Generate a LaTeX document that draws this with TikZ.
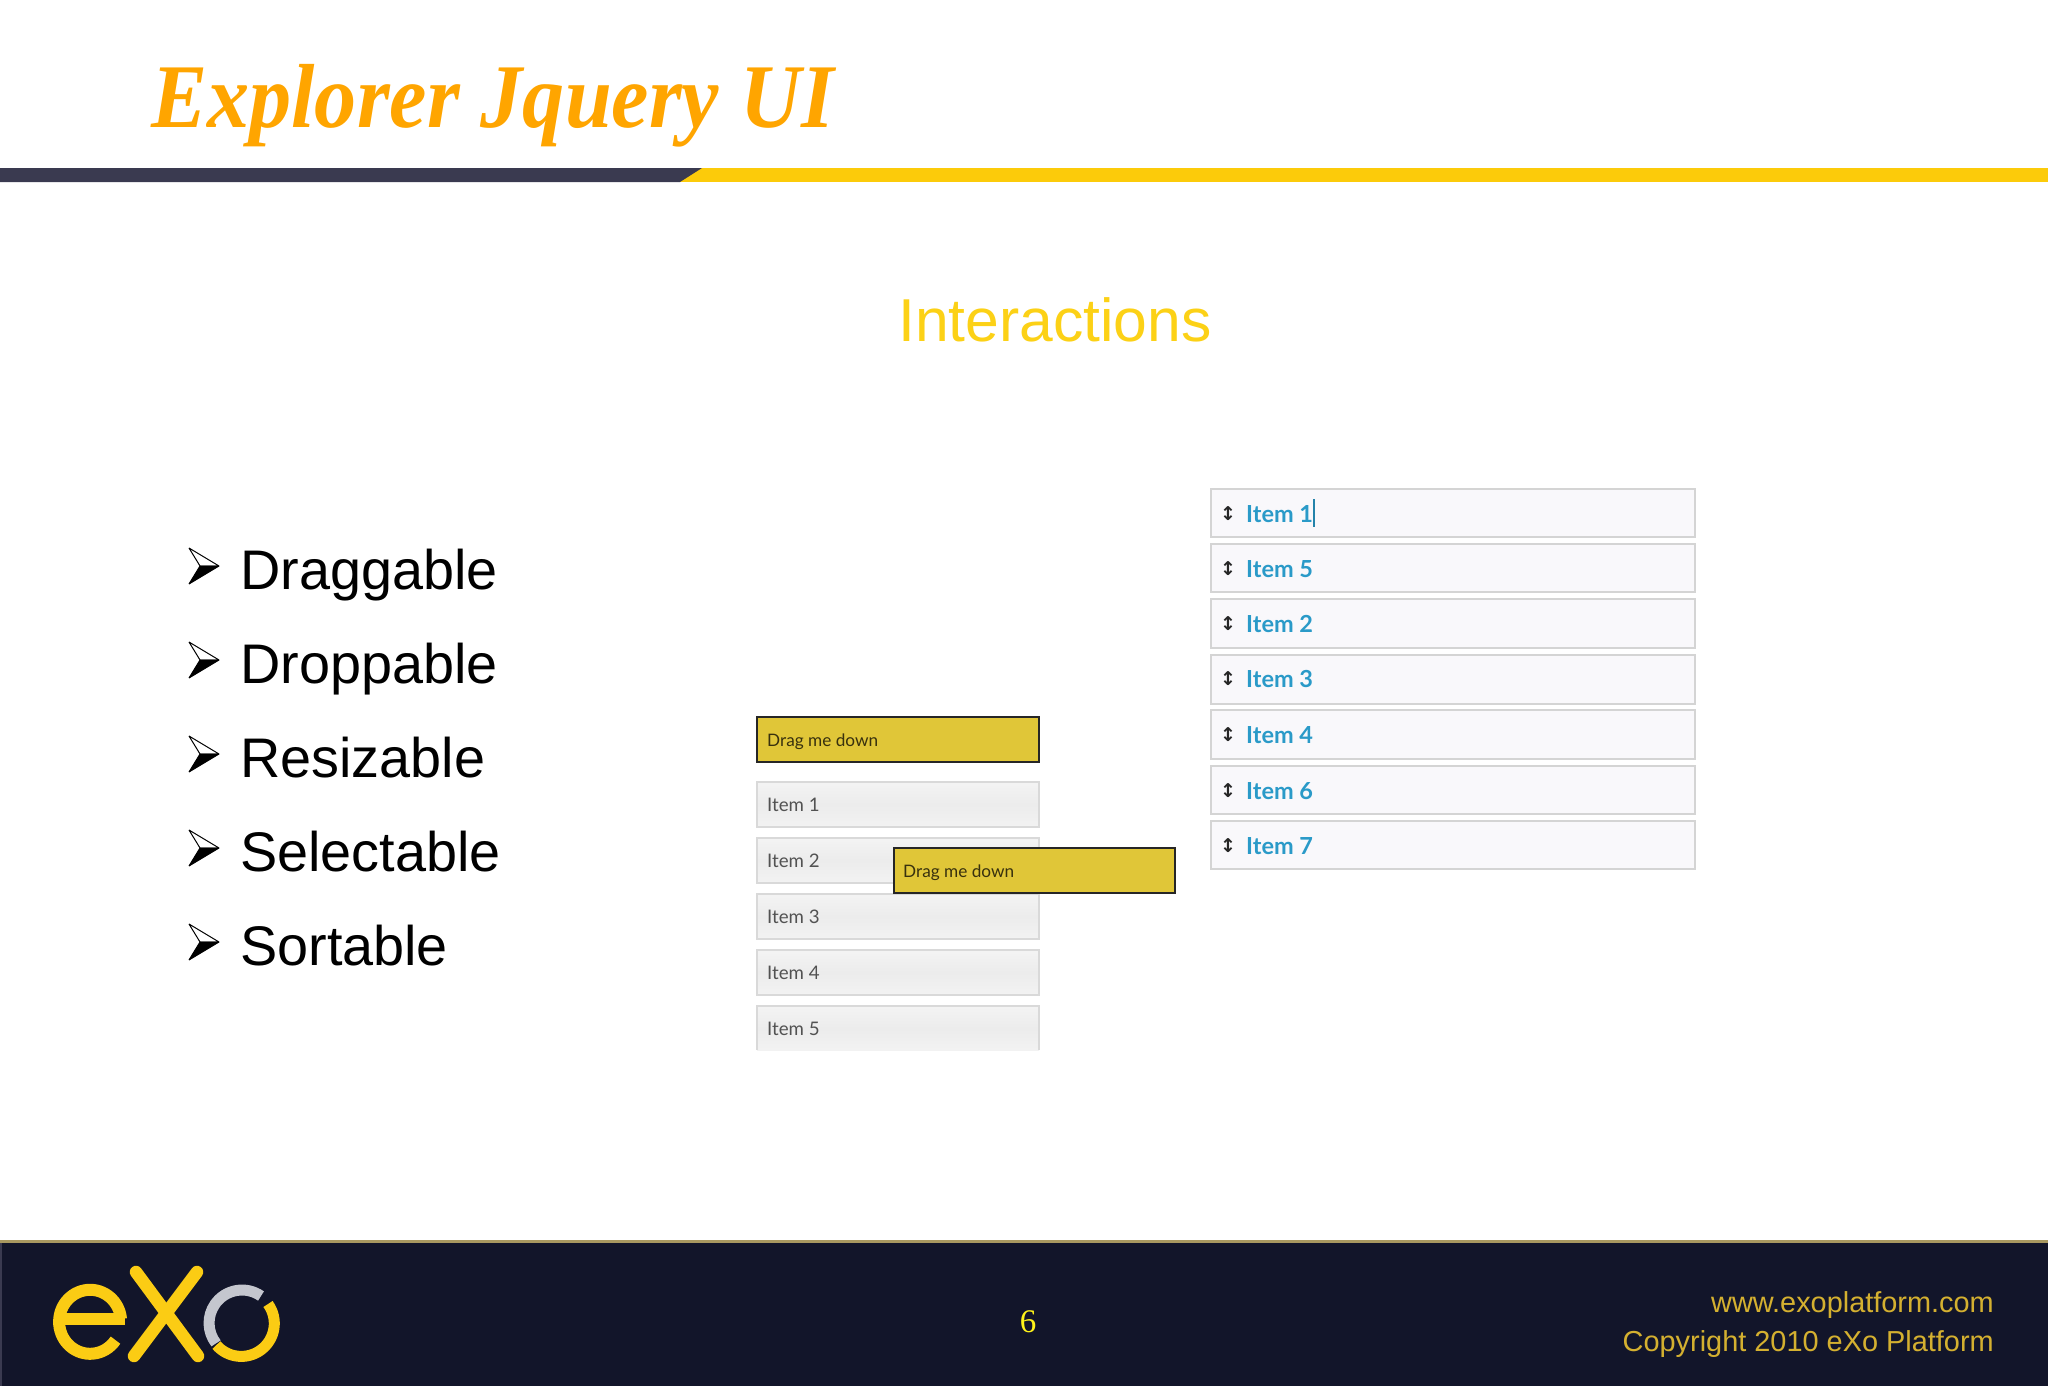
\documentclass[tikz,border=0pt]{standalone}
\usepackage{fontspec}
\setmainfont{Liberation Sans}
\newfontfamily\titlefont{Liberation Serif}
\newfontfamily\titlecond[FakeStretch=0.925]{Liberation Serif}
\newfontfamily\uifont{Lato}
\newfontfamily\symfont{DejaVu Sans}
\definecolor{titleorange}{HTML}{FFA500}
\definecolor{barnavy}{HTML}{3A3A50}
\definecolor{baryellow}{HTML}{FCCB0A}
\definecolor{subyellow}{HTML}{FCD116}
\definecolor{footnavy}{HTML}{12152A}
\definecolor{footline}{HTML}{A89860}
\definecolor{footgold}{HTML}{D4B030}
\definecolor{logoyellow}{HTML}{FBCC14}
\definecolor{logogrey}{HTML}{C4C6CE}
\definecolor{dragyellow}{HTML}{E0C638}
\definecolor{itemblue}{HTML}{2A9AC8}
\definecolor{sortfill}{HTML}{F9F8FB}
\tikzset{
  fs/.style={font=\fontsize{#1}{#1}\selectfont},
  bullet/.style={fs=55.8,anchor=base west},
  arrowtip/.style={line width=1,line join=bevel},
  dragbox/.style={draw=black!85,line width=1.6,fill=dragyellow},
  dragtext/.style={anchor=base west,inner sep=0,text=black!75!dragyellow,font=\fontsize{17.2}{17.2}\selectfont\uifont},
  itembox/.style={draw=black!15,line width=1.4,top color=gray!9,bottom color=gray!10,middle color=gray!15},
  itemtext/.style={anchor=base west,inner sep=0,text=black!68,font=\fontsize{18.7}{18.7}\selectfont\uifont},
  sortbox/.style={draw=black!17,line width=1.4,fill=sortfill},
  sorttext/.style={anchor=base west,inner sep=0,text=itemblue,font=\fontsize{23.5}{23.5}\selectfont\uifont\bfseries},
  sorticon/.style={inner sep=0,text=black!85,font=\fontsize{19}{19}\selectfont\symfont\bfseries},
  logostroke/.style={line width=12,draw=logoyellow},
  foot/.style={anchor=base east,inner sep=0,text=footgold,fs=28.9}
}
\begin{document}
\begin{tikzpicture}[x=1pt,y=-1pt]
\useasboundingbox (0,0) rectangle (2048,1386);
\fill[white] (0,0) rectangle (2048,1386);
% header
\node[anchor=base west,inner sep=0,text=titleorange,font=\fontsize{91}{91}\selectfont\titlecond\bfseries\itshape] (title) at (151,128) {Explorer Jquery UI};
\fill[baryellow] (680,168) rectangle (2048,182);
\fill[barnavy] (0,168) -- (702,168) -- (680,182) -- (0,182) -- cycle;
\node[anchor=base,inner sep=0,text=subyellow,fs=60.6] (subtitle) at (1055,341) {Interactions};
% bullets
\draw[arrowtip,fill=white] (189,548) -- (219,566) -- (200,566) -- cycle;
\draw[arrowtip,fill=black] (189,584) -- (219,566) -- (200,566) -- cycle;
\node[bullet,inner sep=0] (drag) at (240,589) {Draggable};
\draw[arrowtip,fill=white] (189,642) -- (219,660) -- (200,660) -- cycle;
\draw[arrowtip,fill=black] (189,678) -- (219,660) -- (200,660) -- cycle;
\node[bullet,inner sep=0] (drop) at (240,683) {Droppable};
\draw[arrowtip,fill=white] (189,736) -- (219,754) -- (200,754) -- cycle;
\draw[arrowtip,fill=black] (189,772) -- (219,754) -- (200,754) -- cycle;
\node[bullet,inner sep=0] (resize) at (240,777) {Resizable};
\draw[arrowtip,fill=white] (189,830) -- (219,848) -- (200,848) -- cycle;
\draw[arrowtip,fill=black] (189,866) -- (219,848) -- (200,848) -- cycle;
\node[bullet,inner sep=0] (select) at (240,871) {Selectable};
\draw[arrowtip,fill=white] (189,924) -- (219,942) -- (200,942) -- cycle;
\draw[arrowtip,fill=black] (189,960) -- (219,942) -- (200,942) -- cycle;
\node[bullet,inner sep=0] (sort) at (240,965) {Sortable};
% draggable panel
\draw[dragbox] (757,717) rectangle (1039,762);
\node[dragtext] (dragA) at (767,746) {Drag me down};
\draw[itembox] (757,782) rectangle (1039,827);
\node[itemtext] (itemA) at (767,811) {Item 1};
\draw[itembox] (757,838) rectangle (1039,883);
\node[itemtext] (itemB) at (767,867) {Item 2};
\draw[itembox] (757,894) rectangle (1039,939);
\node[itemtext] (itemC) at (767,923) {Item 3};
\draw[itembox] (757,950) rectangle (1039,995);
\node[itemtext] (itemD) at (767,979) {Item 4};
\shade[top color=gray!9,bottom color=gray!10,middle color=gray!15] (757,1006) rectangle (1039,1050);
\draw[draw=black!15,line width=1.4] (757,1050) -- (757,1006) -- (1039,1006) -- (1039,1050);
\node[itemtext] (itemE) at (767,1035) {Item 5};
\draw[dragbox] (894,848) rectangle (1175,893);
\node[dragtext] (dragB) at (903,877) {Drag me down};
% sortable panel
\draw[sortbox] (1211,489) rectangle (1695,537);
\node[sorticon] (iconA) at (1228,514) {↕};
\node[sorttext] (sortA) at (1246,522) {Item 1};
\draw[line width=1.2,draw=itemblue!85!black] (1314,499) -- (1314,527);
\draw[sortbox] (1211,544) rectangle (1695,592);
\node[sorticon] (iconB) at (1228,569) {↕};
\node[sorttext] (sortB) at (1246,577) {Item 5};
\draw[sortbox] (1211,599) rectangle (1695,648);
\node[sorticon] (iconC) at (1228,624) {↕};
\node[sorttext] (sortC) at (1246,632) {Item 2};
\draw[sortbox] (1211,655) rectangle (1695,704);
\node[sorticon] (iconD) at (1228,679) {↕};
\node[sorttext] (sortD) at (1246,687) {Item 3};
\draw[sortbox] (1211,710) rectangle (1695,759);
\node[sorticon] (iconE) at (1228,735) {↕};
\node[sorttext] (sortE) at (1246,743) {Item 4};
\draw[sortbox] (1211,766) rectangle (1695,814);
\node[sorticon] (iconF) at (1228,791) {↕};
\node[sorttext] (sortF) at (1246,799) {Item 6};
\draw[sortbox] (1211,821) rectangle (1695,869);
\node[sorticon] (iconG) at (1228,846) {↕};
\node[sorttext] (sortG) at (1246,854) {Item 7};
% footer
\fill[footnavy] (0,1242) rectangle (2048,1386);
\fill[footline] (0,1240) rectangle (2048,1243);
\fill[barnavy] (0,1243) rectangle (2,1386);
\draw[logostroke] (59,1319) -- (125,1319);
\draw[logostroke] (121,1319) arc[x radius=31,y radius=32,start angle=-5,end angle=-325];
\draw[logostroke,line width=12.5,line cap=round] (136,1272) -- (198,1356);
\draw[logostroke,line width=12.5,line cap=round] (197,1272) -- (134,1356);
\draw[logostroke,draw=logogrey,line width=11] (261,1296) arc[radius=33,start angle=-55,end angle=-218];
\draw[logostroke,line width=11] (268,1304) arc[radius=33,start angle=-36,end angle=139];
\node[inner sep=0,text=yellow!90!white,font=\fontsize{33}{33}\selectfont\titlefont] (pagenum) at (1028,1322) {6};
\node[foot] (web) at (1994,1312) {www.exoplatform.com};
\node[foot] (copy) at (1994,1351) {Copyright 2010 eXo Platform};
\end{tikzpicture}
\end{document}
